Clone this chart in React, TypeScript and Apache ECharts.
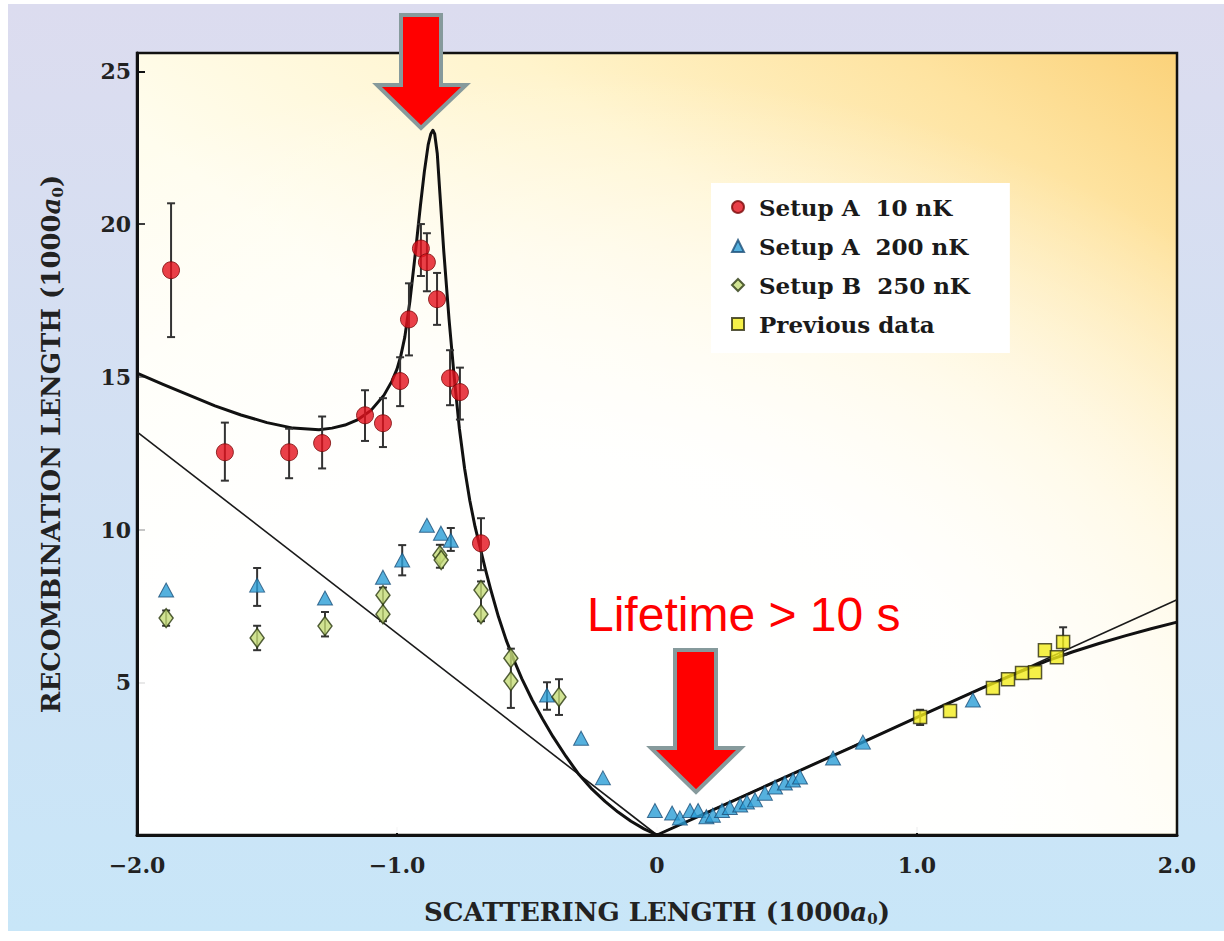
import React, { useEffect, useRef } from 'react';
import * as echarts from 'echarts';

// ---- axis ticks ----
const xTickValues = [-2, -1, 0, 1, 2];
const yTickValues = [5, 10, 15, 20, 25];

// ---- Setup A 10 nK (red circles) ----
const setupA10 = [
  [-1.869, 18.49], [-1.662, 12.53], [-1.415, 12.53], [-1.288, 12.83], [-1.123, 13.74],
  [-1.054, 13.48], [-0.988, 14.86], [-0.954, 16.88], [-0.908, 19.2], [-0.885, 18.75],
  [-0.846, 17.54], [-0.796, 14.95], [-0.758, 14.5], [-0.677, 9.55],
];
const setupA10Err = [
  [-1.869, 16.3, 20.68], [-1.662, 11.6, 13.5], [-1.415, 11.68, 13.3], [-1.288, 12.0, 13.7],
  [-1.123, 12.9, 14.56], [-1.054, 12.7, 14.3], [-0.988, 14.04, 15.64], [-0.954, 15.7, 18.06],
  [-0.908, 18.3, 20.0], [-0.885, 17.8, 19.7], [-0.846, 16.7, 18.4], [-0.796, 14.07, 15.87],
  [-0.758, 13.6, 15.3], [-0.677, 8.67, 10.37],
];

// ---- Setup A 200 nK (blue triangles) ----
const setupA200 = [
  [-1.888, 8.02], [-1.538, 8.18], [-1.277, 7.76], [-1.054, 8.44], [-0.98, 9.0],
  [-0.885, 10.14], [-0.831, 9.88], [-0.793, 9.65], [-0.423, 4.58], [-0.292, 3.17],
  [-0.208, 1.87], [-0.008, 0.8], [0.058, 0.72], [0.088, 0.56], [0.127, 0.8],
  [0.158, 0.8], [0.19, 0.6], [0.215, 0.65], [0.25, 0.8], [0.28, 0.9],
  [0.32, 0.98], [0.346, 1.08], [0.377, 1.15], [0.415, 1.37], [0.454, 1.57],
  [0.492, 1.7], [0.523, 1.8], [0.55, 1.9], [0.677, 2.52], [0.792, 3.04], [1.215, 4.42],
];
const setupA200Err = [
  [-1.538, 7.5, 8.74], [-0.98, 8.5, 9.49], [-0.793, 9.3, 10.05], [-0.423, 4.1, 5.0],
];

// ---- Setup B 250 nK (green diamonds) ----
const setupB250 = [
  [-1.888, 7.1], [-1.538, 6.45], [-1.277, 6.84], [-1.054, 7.85], [-1.054, 7.23],
  [-0.835, 9.16], [-0.83, 9.0], [-0.677, 8.02], [-0.677, 7.23], [-0.562, 5.79],
  [-0.562, 5.04], [-0.377, 4.52],
];
const setupB250Err = [
  [-1.888, 6.85, 7.35], [-1.538, 6.05, 6.85], [-1.277, 6.5, 7.3], [-1.054, 7.0, 8.1],
  [-0.835, 8.75, 9.5], [-0.677, 7.0, 8.3], [-0.562, 4.16, 6.1], [-0.377, 3.93, 5.1],
];

// ---- Previous data (yellow squares) ----
const previousData = [
  [1.012, 3.86], [1.127, 4.06], [1.292, 4.81], [1.35, 5.1], [1.404, 5.3],
  [1.454, 5.33], [1.492, 6.05], [1.538, 5.82], [1.562, 6.32],
];
const previousErr = [[1.562, 5.9, 6.8], [1.012, 3.6, 4.1]];

// ---- theory curves ----
const fitCurve = [
  [-2.0, 15.12], [-1.9, 14.75], [-1.8, 14.4], [-1.7, 14.05], [-1.6, 13.75],
  [-1.5, 13.5], [-1.4, 13.32], [-1.3, 13.27], [-1.25, 13.32], [-1.2, 13.42],
  [-1.15, 13.6], [-1.1, 13.9], [-1.05, 14.4], [-1.02, 14.85], [-1.0, 15.25],
  [-0.985, 15.7], [-0.97, 16.3], [-0.95, 17.5], [-0.93, 19.0], [-0.91, 20.6],
  [-0.895, 21.7], [-0.88, 22.6], [-0.87, 22.95], [-0.862, 23.07], [-0.855, 22.95],
  [-0.845, 22.3], [-0.835, 21.0], [-0.82, 19.1], [-0.8, 16.9], [-0.78, 15.0],
  [-0.76, 13.3], [-0.74, 12.0], [-0.72, 10.95], [-0.7, 10.1], [-0.68, 9.4],
  [-0.66, 8.7], [-0.64, 8.05], [-0.61, 7.15], [-0.58, 6.38], [-0.55, 5.72],
  [-0.52, 5.12], [-0.48, 4.42], [-0.44, 3.8], [-0.4, 3.22], [-0.35, 2.57],
  [-0.3, 1.98], [-0.25, 1.5], [-0.2, 1.1], [-0.15, 0.75], [-0.1, 0.45],
  [-0.05, 0.2], [0, 0], [0.25, 0.95], [0.5, 1.92], [0.75, 2.88],
  [1.0, 3.85], [1.25, 4.81], [1.4, 5.36], [1.5, 5.7], [1.6, 6.0],
  [1.7, 6.27], [1.8, 6.52], [1.9, 6.75], [2.0, 6.97],
];
const asymptoteNeg = [[-2.0, 13.2], [0, 0]];
const asymptotePos = [[0, 0], [2.0, 7.7]];

const SERIF = 'DejaVu Serif';

function errorBars(data: number[][], color: string) {
  return {
    type: 'custom',
    silent: true,
    z: 3,
    data,
    encode: { x: 0, y: [1, 2] },
    renderItem: (params: any, api: any) => {
      const x = api.value(0);
      const lo = api.coord([x, api.value(1)]);
      const hi = api.coord([x, api.value(2)]);
      const w = 4;
      const style = { stroke: color, lineWidth: 2 };
      return {
        type: 'group',
        children: [
          { type: 'line', shape: { x1: lo[0], y1: lo[1], x2: hi[0], y2: hi[1] }, style },
          { type: 'line', shape: { x1: lo[0] - w, y1: lo[1], x2: lo[0] + w, y2: lo[1] }, style },
          { type: 'line', shape: { x1: hi[0] - w, y1: hi[1], x2: hi[0] + w, y2: hi[1] }, style },
        ],
      };
    },
  };
}

const fmtX = (v: number) => {
  if (!xTickValues.includes(v)) return '';
  if (v === 0) return '0';
  return (v < 0 ? '\u2212' : '') + Math.abs(v).toFixed(1);
};
const fmtY = (v: number) => (yTickValues.includes(v) ? String(v) : '');

const nameRich = {
  n: { fontFamily: SERIF, fontWeight: 'bold', fontSize: 26, color: '#222' },
  i: { fontFamily: SERIF, fontWeight: 'bold', fontStyle: 'italic', fontSize: 26, color: '#222' },
  s: { fontFamily: SERIF, fontWeight: 'bold', fontSize: 15, color: '#222', padding: [14, 0, 0, 0] },
};

export default function App() {
  const ref = useRef<HTMLDivElement>(null);
  useEffect(() => {
    document.body.style.margin = '0';
    const chart = echarts.init(ref.current!, null, { renderer: 'svg' });
    const option: any = {
      animation: false,
      backgroundColor: '#ffffff',
      graphic: [
        {
          type: 'rect',
          z: -100,
          shape: { x: 8, y: 4, width: 1216, height: 927 },
          style: {
            fill: new echarts.graphic.LinearGradient(0, 0, 0, 1, [
              { offset: 0, color: '#dcdcef' },
              { offset: 1, color: '#c8e6f8' },
            ]),
          },
        },
        {
          type: 'rect',
          z: 1,
          silent: true,
          shape: { x: 139, y: 55, width: 1036, height: 778 },
          style: {
            fill: new echarts.graphic.RadialGradient(0.42, 0.92, 0.9, [
              { offset: 0, color: 'rgba(255,255,255,1)' },
              { offset: 0.45, color: 'rgba(255,255,255,0.95)' },
              { offset: 0.75, color: 'rgba(255,255,255,0.5)' },
              { offset: 1, color: 'rgba(255,255,255,0)' },
            ]),
          },
        },
        {
          type: 'polygon',
          z: 100,
          shape: { points: [[401, 15], [441, 15], [441, 85], [466, 85], [421, 128], [377, 85], [401, 85]] },
          style: { fill: '#ff0000', stroke: '#869a9c', lineWidth: 4, lineJoin: 'miter' },
        },
        {
          type: 'polygon',
          z: 100,
          shape: { points: [[675, 650], [716, 650], [716, 748], [741, 748], [696, 792], [651, 748], [675, 748]] },
          style: { fill: '#ff0000', stroke: '#869a9c', lineWidth: 4, lineJoin: 'miter' },
        },
        {
          type: 'text',
          z: 100,
          x: 587,
          y: 614,
          style: {
            text: 'Lifetime > 10 s',
            fill: '#ff0000',
            font: '48px "Liberation Sans", Arial, sans-serif',
            verticalAlign: 'middle',
          },
        },
      ],
      grid: {
        left: 137,
        right: 47,
        top: 53,
        bottom: 106,
        show: true,
        borderColor: '#111',
        borderWidth: 2.5,
        backgroundColor: new echarts.graphic.LinearGradient(0, 1, 1, 0, [
          { offset: 0, color: '#ffffff' },
          { offset: 0.45, color: '#fffdee' },
          { offset: 0.68, color: '#fff4cc' },
          { offset: 0.87, color: '#fee3a0' },
          { offset: 1, color: '#fbd27a' },
        ]),
      },
      legend: {
        orient: 'vertical',
        left: 711,
        top: 183,
        z: 10,
        backgroundColor: '#ffffff',
        padding: [11, 40, 16, 20],
        itemWidth: 12,
        itemHeight: 12,
        itemGap: 13,
        align: 'left',
        data: ['Setup A  10 nK', 'Setup A  200 nK', 'Setup B  250 nK', 'Previous data'],
        textStyle: {
          fontFamily: SERIF,
          fontWeight: 'bold',
          fontSize: 23,
          color: '#1a1a1a',
          lineHeight: 26,
          padding: [0, 0, 0, 10],
        },
      },
      xAxis: {
        type: 'value',
        min: -2,
        max: 2,
        interval: 1,
        name: '{n|SCATTERING LENGTH (1000}{i|a}{s|0}{n|)}',
        nameLocation: 'middle',
        nameGap: 62,
        nameTextStyle: { rich: nameRich },
        axisLine: { show: true, onZero: false, lineStyle: { color: '#111', width: 3 } },
        axisTick: { show: true, inside: true, length: 8, lineStyle: { color: '#111', width: 2 } },
        axisLabel: {
          formatter: fmtX,
          margin: 19,
          fontFamily: SERIF,
          fontWeight: 'bold',
          fontSize: 22,
          color: '#222',
        },
        splitLine: { show: false },
      },
      yAxis: {
        type: 'value',
        min: 0,
        max: 25.6,
        interval: 5,
        name: '{n|RECOMBINATION LENGTH (1000}{i|a}{s|0}{n|)}',
        nameLocation: 'middle',
        nameGap: 72,
        nameTextStyle: { rich: nameRich },
        axisLine: { show: true, onZero: false, lineStyle: { color: '#111', width: 3 } },
        axisTick: { show: true, inside: true, length: 8, lineStyle: { color: '#111', width: 2 } },
        axisLabel: {
          formatter: fmtY,
          margin: 6,
          fontFamily: SERIF,
          fontWeight: 'bold',
          fontSize: 22,
          color: '#222',
        },
        splitLine: { show: false },
      },
      series: [
        {
          type: 'line',
          data: asymptoteNeg,
          symbol: 'none',
          silent: true,
          z: 2,
          lineStyle: { color: '#1a1a1a', width: 1.6 },
        },
        {
          type: 'line',
          data: asymptotePos,
          symbol: 'none',
          silent: true,
          z: 2,
          lineStyle: { color: '#1a1a1a', width: 1.6 },
        },
        {
          type: 'line',
          data: fitCurve,
          symbol: 'none',
          smooth: false,
          silent: true,
          z: 2,
          lineStyle: { color: '#111', width: 3, join: 'round' },
        },
        errorBars(setupA10Err, '#333'),
        errorBars(setupA200Err, '#333'),
        errorBars(setupB250Err, '#333'),
        errorBars(previousErr, '#333'),
        {
          name: 'Setup A  10 nK',
          type: 'scatter',
          data: setupA10,
          symbol: 'circle',
          symbolSize: 17,
          z: 4,
          itemStyle: { color: '#e3101b', borderColor: '#7a0a0a', borderWidth: 1 },
        },
        {
          name: 'Setup A  200 nK',
          type: 'scatter',
          data: setupA200,
          symbol: 'triangle',
          symbolSize: [15, 14],
          z: 4,
          itemStyle: { color: '#2a9ed6', borderColor: '#1b4f78', borderWidth: 1 },
        },
        {
          name: 'Setup B  250 nK',
          type: 'scatter',
          data: setupB250,
          symbol: 'diamond',
          symbolSize: [14, 19],
          z: 4,
          itemStyle: { color: '#c6dc78', borderColor: '#2c3a12', borderWidth: 1.5 },
        },
        {
          name: 'Previous data',
          type: 'scatter',
          data: previousData,
          symbol: 'rect',
          symbolSize: 13,
          z: 4,
          itemStyle: { color: '#f2ec1c', borderColor: '#2d2d10', borderWidth: 1.5 },
        },
      ],
    };
    chart.setOption(option);
    return () => chart.dispose();
  }, []);
  return <div ref={ref} style={{ width: 1224, height: 941 }} />;
}
